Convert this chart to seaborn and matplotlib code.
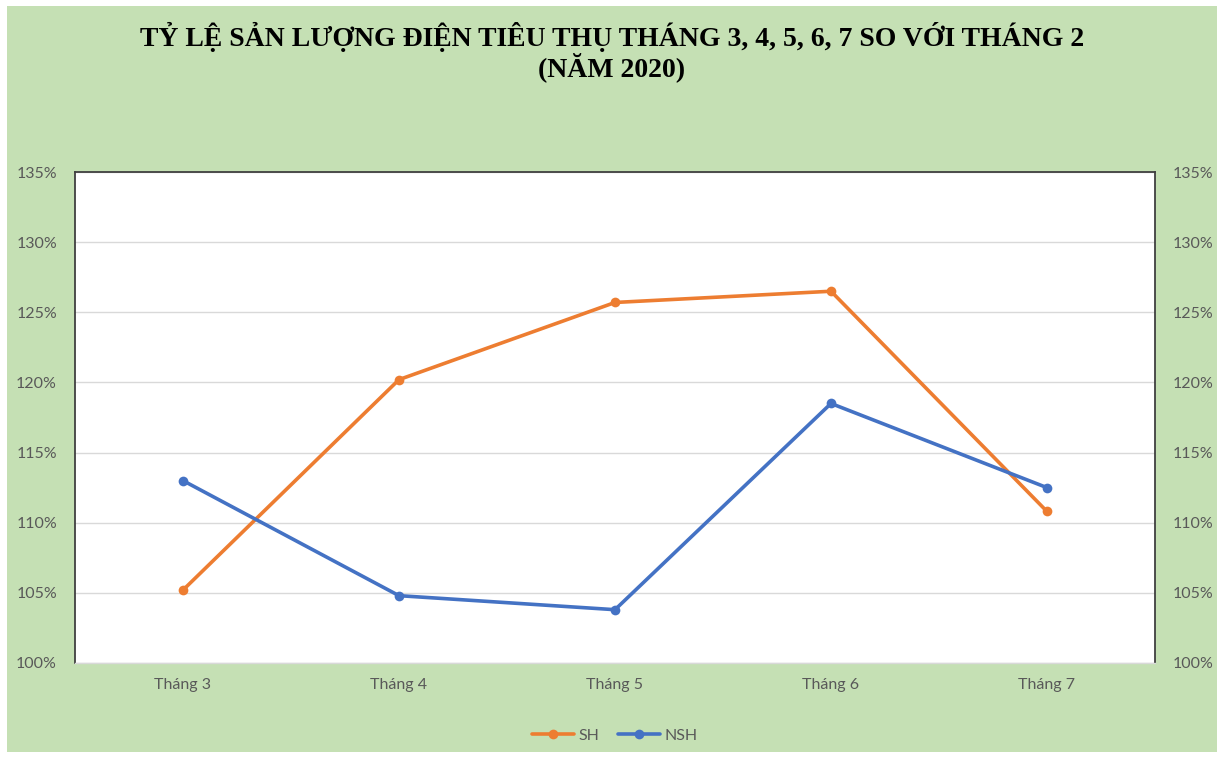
import seaborn as sns
import pandas as pd
import matplotlib.pyplot as plt
import matplotlib.patches as patches
from matplotlib.ticker import FuncFormatter

months = ['Tháng 3', 'Tháng 4', 'Tháng 5', 'Tháng 6', 'Tháng 7']
sh = [105.2, 120.2, 125.7, 126.5, 110.8]
nsh = [113.0, 104.8, 103.8, 118.5, 112.5]
series = ['SH', 'NSH']
yticks = [100, 105, 110, 115, 120, 125, 130, 135]

df = pd.DataFrame({
    'month': months * 2,
    'value': sh + nsh,
    'series': ['SH'] * len(sh) + ['NSH'] * len(nsh),
})

sns.set_style('white')
plt.rcParams['font.family'] = ['Lato', 'DejaVu Sans']

green = '#C5E0B4'
gray = '#595959'

fig = plt.figure(figsize=(12.24, 7.58), dpi=100, facecolor='white')
bg = patches.Rectangle((7 / 1224, 6 / 758), 1210 / 1224, 746 / 758,
                       transform=fig.transFigure, facecolor=green,
                       edgecolor='none', zorder=-10)
fig.add_artist(bg)

ax = fig.add_axes([75 / 1224, 1 - 663 / 758, 1080 / 1224, 491 / 758])
ax.set_facecolor('white')

sns.lineplot(data=df, x='month', y='value', hue='series', hue_order=series,
             palette=['#ED7D31', '#4472C4'], marker='o', markersize=7,
             markeredgewidth=0, linewidth=2.6, sort=False, ax=ax)

ax.set_xlim(-0.5, len(months) - 0.5)
ax.set_ylim(100, 135)
ax.set_yticks(yticks)
ax.yaxis.set_major_formatter(FuncFormatter(lambda v, p: f'{v:.0f}%'))
ax.grid(axis='y', color='#D9D9D9', linewidth=1)
ax.set_axisbelow(True)
ax.set_xlabel('')
ax.set_ylabel('')

for side in ['left', 'right', 'top']:
    ax.spines[side].set_color('#404040')
    ax.spines[side].set_linewidth(1.3)
ax.spines['bottom'].set_color('#D9D9D9')
ax.spines['bottom'].set_linewidth(1)

ax.tick_params(axis='both', length=0, labelsize=11.5, labelcolor=gray)
ax.tick_params(axis='y', labelright=True, pad=13)
ax.tick_params(axis='x', pad=11)

leg = ax.legend(loc='center', bbox_to_anchor=(0.5, -0.148), ncol=2, frameon=False,
                fontsize=11.5, labelcolor=gray, handlelength=2.6, columnspacing=1.2,
                handletextpad=0.3)

title_font = ['Liberation Serif', 'DejaVu Serif']
fig.text(0.5, 1 - 37 / 758, 'TỶ LỆ SẢN LƯỢNG ĐIỆN TIÊU THỤ THÁNG 3, 4, 5, 6, 7 SO VỚI THÁNG 2',
         ha='center', va='center', fontsize=20, fontweight='bold',
         family=title_font, color='black')
fig.text(0.5, 1 - 67 / 758, '(NĂM 2020)',
         ha='center', va='center', fontsize=20, fontweight='bold',
         family=title_font, color='black')

plt.savefig('out.png', dpi=100, facecolor=fig.get_facecolor())
plt.close()
